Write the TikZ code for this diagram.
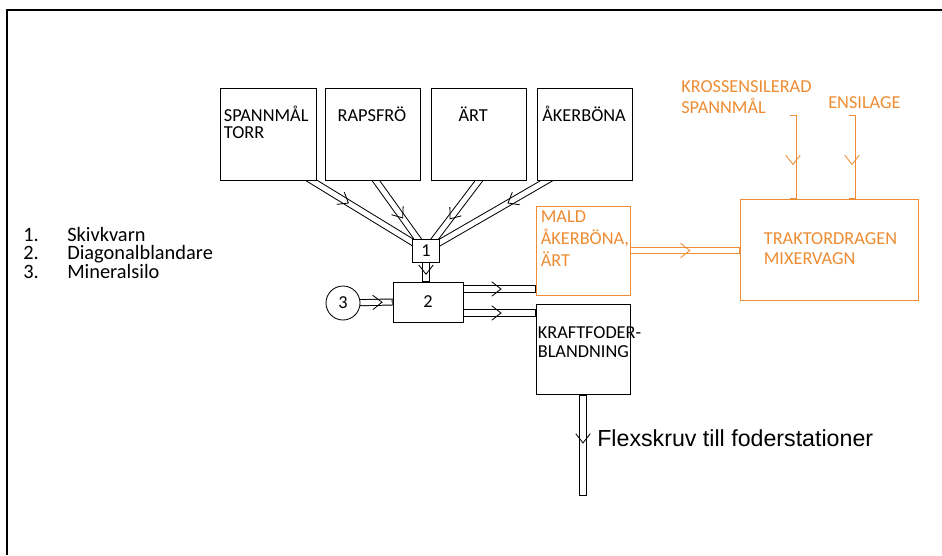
\documentclass[tikz,border=0pt]{standalone}
\usepackage{fontspec}
\setmainfont{Carlito}
\newfontfamily\arialfont{Liberation Sans}
\usepackage{tikz}
\usetikzlibrary{positioning,backgrounds,calc,arrows.meta,decorations.markings}
\definecolor{orng}{RGB}{237,140,50}

\begin{document}
\begin{tikzpicture}[
x=0.25mm, y=-0.25mm,
box/.style={draw, fill=white, rectangle, inner sep=0pt, line width=0.6pt, font=\fontsize{13}{15}\selectfont},
obox/.style={box, draw=orng},
boxtext/.style={anchor=base west, inner sep=0pt, text width=30mm, align=left, font=\fontsize{13}{#1}\selectfont},
boxtext/.default=12,
pipe/.style 2 args={draw=#2, line width=5pt,
  postaction={draw=white, line width=3.6pt, shorten <=0.6pt, shorten >=0.6pt},
  postaction={decorate, decoration={markings, mark=at position #1 with
    {\arrow[#2]{Straight Barb[length=2.3mm, width=3.6mm, line width=0.6pt]}}}}},
]
\useasboundingbox (0,0) rectangle (942,555);
\draw[line width=1pt] (7,555) -- (7,10) -- (942,10);

% raw materials
\node[box, minimum width=24mm, minimum height=23mm] (spannmal) at (268,134) {};
\node[box, right=2.25mm of spannmal, minimum width=23.75mm, minimum height=23mm] (raps) {};
\node[box, right=2.5mm of raps, minimum width=23.75mm, minimum height=23mm] (art) {};
\node[box, right=2.5mm of art, minimum width=23.75mm, minimum height=23mm] (aker) {};
\node[boxtext] (spannmaltxt) at ([shift={(4,34)}]spannmal.north west) {SPANNMÅL\\TORR};
\node[boxtext] (rapstxt) at ([shift={(12,34)}]raps.north west) {RAPSFRÖ};
\node[boxtext] (arttxt) at ([shift={(27,34)}]art.north west) {ÄRT};
\node[boxtext] (akertxt) at ([shift={(5,34)}]aker.north west) {ÅKERBÖNA};

% mill, mixer, mineral silo
\node[box, minimum width=6.75mm, minimum height=5.75mm] (kvarn) at (426,250.5) {1};
\node[box, minimum width=17.5mm, minimum height=10mm] (blandare) at (428,302) {2};
\node[box, circle, minimum size=8.5mm] (silo) at (343,303) {3};

% products
\node[obox, minimum width=23.5mm, minimum height=22.25mm] (mald) at (583,250.5) {};
\node[box, below=2.25mm of mald, minimum width=23.5mm, minimum height=22.5mm] (kraft) {};
\node[obox, minimum width=44.5mm, minimum height=25.25mm] (mixer) at (829,249.5) {};
\node[boxtext=15.6, text=orng] (maldtxt) at ([shift={(5,17)}]mald.north west) {MALD\\ÅKERBÖNA,\\ÄRT};
\node[boxtext=13.5] (krafttxt) at ([shift={(2,34)}]kraft.north west) {KRAFTFODER-\\BLANDNING};
\node[boxtext=14.2, text=orng] (mixertxt) at ([shift={(24,46)}]mixer.north west) {TRAKTORDRAGEN\\MIXERVAGN};

% silage feeds
\coordinate (krossin) at (793,115);
\coordinate (ensilin) at (852,115);
\node[boxtext=15, text=orng] (krosstxt) at (681,92) {KROSSENSILERAD\\SPANNMÅL};
\node[boxtext, text=orng] (ensiltxt) at (828,108) {ENSILAGE};

% outlet
\coordinate (flexend) at (582,496);
\node[anchor=base west, inner sep=0pt, font=\arialfont\fontsize{16.5}{19}\selectfont] (flextxt) at (597,446) {Flexskruv till foderstationer};

% legend
\node[anchor=base west, inner sep=0pt, text width=60mm, align=left, font=\fontsize{14.5}{13.2}\selectfont] (legend) at (23,241)
  {\makebox[11mm][l]{1.}Skivkvarn\\\makebox[11mm][l]{2.}Diagonalblandare\\\makebox[11mm][l]{3.}Mineralsilo};

\coordinate (out1) at ([shift={(0,-13)}]blandare.east);
\coordinate (out2) at ([shift={(0,11)}]blandare.east);

\begin{scope}[on background layer]
\draw[pipe={0.44}{black}] ($(kvarn.center)!1.2!([xshift=-1.25mm]spannmal.south east)$) -- (kvarn.center);
\draw[pipe={0.62}{black}] ($(kvarn.center)!1.2!([xshift=0.6mm]raps.south)$) -- (kvarn.center);
\draw[pipe={0.63}{black}] ($(kvarn.center)!1.2!(art.south)$) -- (kvarn.center);
\draw[pipe={0.44}{black}] ($(kvarn.center)!1.2!([xshift=2.5mm]aker.south west)$) -- (kvarn.center);
\draw[pipe={0.65}{black}] (kvarn.south) -- (kvarn.south |- blandare.north);
\draw[pipe={0.8}{black}] (silo.center) -- (blandare.west);
\draw[pipe={0.53}{black}] (out1) -- (out1 -| mald.west);
\draw[pipe={0.53}{black}] (out2) -- (out2 -| kraft.west);
\draw[pipe={0.55}{orng}] (mald.east) -- (mald.east -| mixer.west);
\draw[pipe={0.6}{orng}] (krossin) -- (krossin |- mixer.north);
\draw[pipe={0.6}{orng}] (ensilin) -- (ensilin |- mixer.north);
\draw[pipe={0.48}{black}] (kraft.south) -- (kraft.south |- flexend);
\end{scope}
\end{tikzpicture}
\end{document}
